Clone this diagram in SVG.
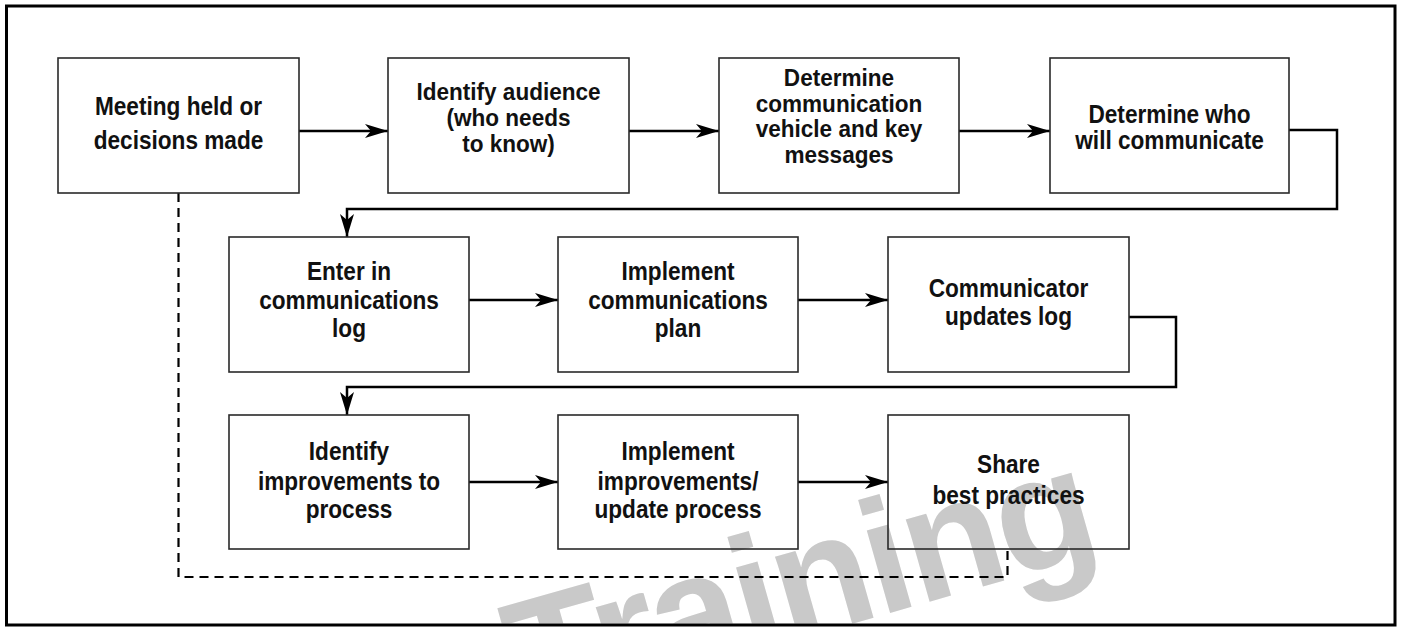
<svg xmlns="http://www.w3.org/2000/svg" width="1401" height="627" viewBox="0 0 1401 627">
<style>
.box{fill:none;stroke:#2a2a2a;stroke-width:1.6}
.t{font-family:"Liberation Sans",Arial,Helvetica,sans-serif;font-weight:bold;font-size:26px;text-anchor:middle;fill:#111}
.s{font-size:24px}
.c{fill:none;stroke:#000;stroke-width:2.5}
.d{fill:none;stroke:#000;stroke-width:2.2;stroke-dasharray:9 6}
.wm{font-family:"Liberation Sans",Arial,Helvetica,sans-serif;font-weight:bold;font-size:162px;letter-spacing:-4px;fill:#c9c9c9}
</style>
<defs>
<marker id="ah" markerUnits="userSpaceOnUse" markerWidth="24" markerHeight="14" refX="23" refY="7" orient="auto">
<path d="M0,0 L23,7 L0,14 L6,7 z" fill="#000"/>
</marker>
<clipPath id="fr"><rect x="8" y="7.5" width="1385" height="616"/></clipPath>
</defs>
<rect x="0" y="0" width="1401" height="627" fill="#fff"/>
<g id="watermark" clip-path="url(#fr)">
<text class="wm" x="0" y="0" transform="translate(526 716) rotate(-15.8)">Training</text>
</g>
<rect id="frame" x="6.5" y="6" width="1388.5" height="619" fill="none" stroke="#000" stroke-width="3"/>
<g id="connectors">
<path class="c" d="M299,131 H388" marker-end="url(#ah)"/>
<path class="c" d="M629,131 H719" marker-end="url(#ah)"/>
<path class="c" d="M959,131 H1050" marker-end="url(#ah)"/>
<path class="c" d="M1289,130 H1337 V209 H347 V237" marker-end="url(#ah)"/>
<path class="c" d="M469,300 H558" marker-end="url(#ah)"/>
<path class="c" d="M798,300 H888" marker-end="url(#ah)"/>
<path class="c" d="M1129,317 H1176 V387 H347 V415" marker-end="url(#ah)"/>
<path class="c" d="M469,482 H558" marker-end="url(#ah)"/>
<path class="c" d="M798,482 H888" marker-end="url(#ah)"/>
<path class="d" d="M178.5,193 V577 H1007.5 V549"/>
</g>
<g id="n1"><rect class="box" x="58" y="58" width="241" height="135"/>
<text class="t" transform="translate(178.5 0) scale(0.87 1)"><tspan x="0" y="115">Meeting held or</tspan><tspan x="0" y="149">decisions made</tspan></text></g>
<g id="n2"><rect class="box" x="388" y="58" width="241" height="135"/>
<text class="t s" transform="translate(508.5 0) scale(0.94 1)"><tspan x="0" y="100">Identify audience</tspan><tspan x="0" y="126">(who needs</tspan><tspan x="0" y="152">to know)</tspan></text></g>
<g id="n3"><rect class="box" x="719" y="58" width="240" height="135"/>
<text class="t s" transform="translate(839 0) scale(0.94 1)"><tspan x="0" y="86">Determine</tspan><tspan x="0" y="112">communication</tspan><tspan x="0" y="137.5">vehicle and key</tspan><tspan x="0" y="163">messages</tspan></text></g>
<g id="n4"><rect class="box" x="1050" y="58" width="239" height="135"/>
<text class="t" transform="translate(1169.5 0) scale(0.87 1)"><tspan x="0" y="123">Determine who</tspan><tspan x="0" y="149">will communicate</tspan></text></g>
<g id="n5"><rect class="box" x="229" y="237" width="240" height="135"/>
<text class="t" transform="translate(349 0) scale(0.87 1)"><tspan x="0" y="280">Enter in</tspan><tspan x="0" y="309">communications</tspan><tspan x="0" y="337">log</tspan></text></g>
<g id="n6"><rect class="box" x="558" y="237" width="240" height="135"/>
<text class="t" transform="translate(678 0) scale(0.87 1)"><tspan x="0" y="280">Implement</tspan><tspan x="0" y="309">communications</tspan><tspan x="0" y="337">plan</tspan></text></g>
<g id="n7"><rect class="box" x="888" y="237" width="241" height="135"/>
<text class="t" transform="translate(1008.5 0) scale(0.87 1)"><tspan x="0" y="297">Communicator</tspan><tspan x="0" y="325">updates log</tspan></text></g>
<g id="n8"><rect class="box" x="229" y="415" width="240" height="134"/>
<text class="t" transform="translate(349 0) scale(0.87 1)"><tspan x="0" y="460">Identify</tspan><tspan x="0" y="490">improvements to</tspan><tspan x="0" y="518">process</tspan></text></g>
<g id="n9"><rect class="box" x="558" y="415" width="240" height="134"/>
<text class="t" transform="translate(678 0) scale(0.87 1)"><tspan x="0" y="460">Implement</tspan><tspan x="0" y="490">improvements/</tspan><tspan x="0" y="518">update process</tspan></text></g>
<g id="n10"><rect class="box" x="888" y="415" width="241" height="134"/>
<text class="t" transform="translate(1008.5 0) scale(0.87 1)"><tspan x="0" y="473">Share</tspan><tspan x="0" y="504">best practices</tspan></text></g>
</svg>
